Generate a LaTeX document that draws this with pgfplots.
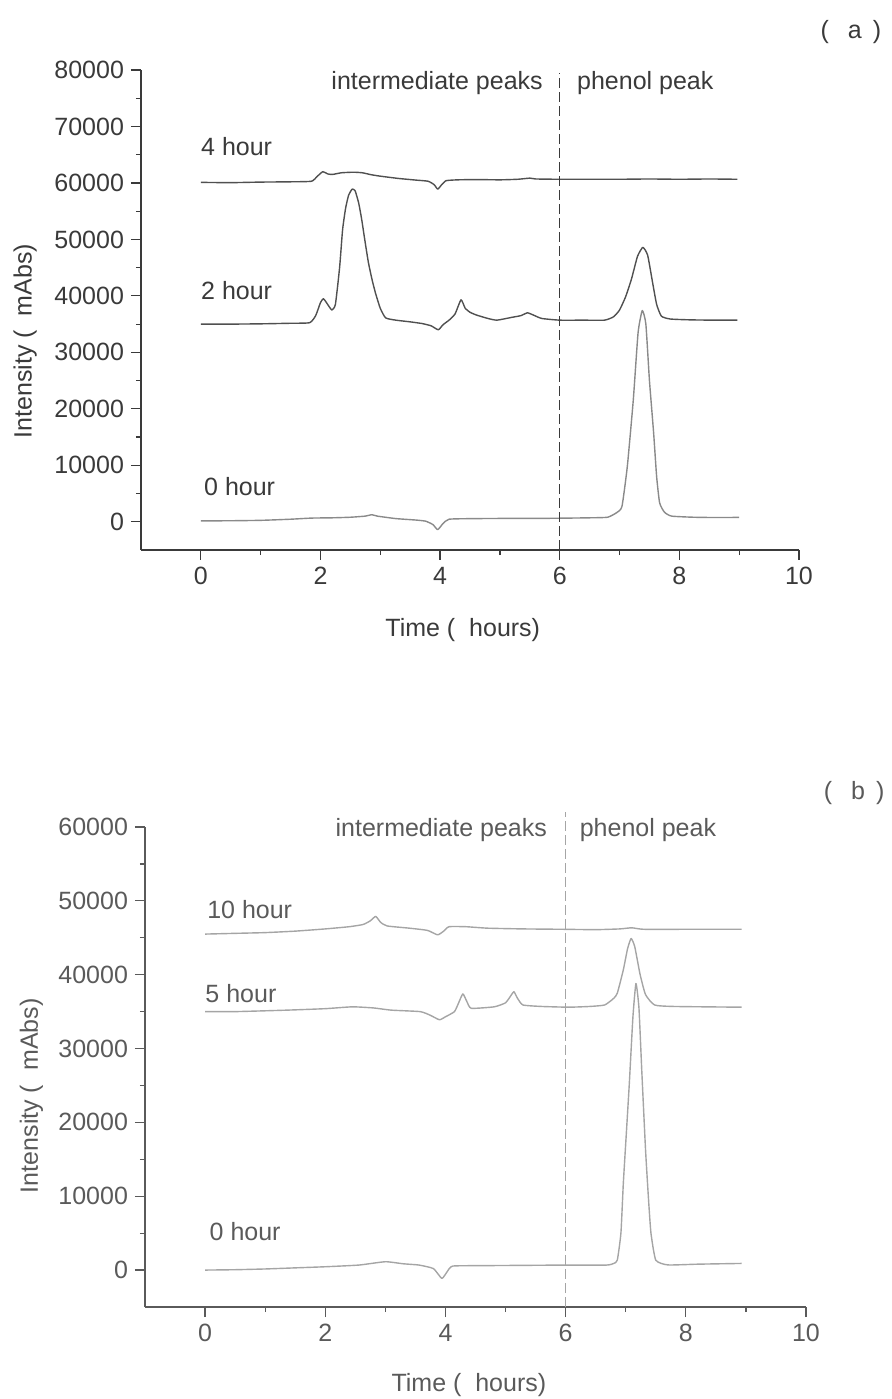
\documentclass[border=0pt]{standalone}
\usepackage{fontspec}
\setmainfont{Liberation Sans}
\usepackage{pgfplots}
\pgfplotsset{compat=1.18}
\definecolor{inka}{HTML}{3A3A3A}
\definecolor{linea}{HTML}{505050}
\definecolor{lineaz}{HTML}{8A8A8A}
\definecolor{inkb}{HTML}{5A5A5A}
\definecolor{lineb}{HTML}{A5A5A5}
\pgfplotsset{
  chrom/.style={
    scale only axis,
    axis x line*=bottom, axis y line*=left,
    axis line style={-, line width=0.7pt, color=#1},
    tick align=outside,
    tick style={line width=0.6pt, color=#1},
    major tick length=5pt, minor tick length=2.6pt,
    xmin=-1, xmax=10, xtick={0,2,4,6,8,10}, minor x tick num=1,
    minor y tick num=1, ymin=-5000,
    scaled y ticks=false,
    /pgf/number format/assume math mode=true,
    /pgf/number format/1000 sep={},
    font=\fontsize{12.5pt}{15pt}\selectfont,
    ticklabel style={color=#1, font=\fontsize{12.5pt}{15pt}\selectfont},
    label style={color=#1},
    clip=false,
  },
  curve/.style={#1, line width=0.7pt, line join=round, smooth, tension=0.3},
}
\begin{document}
\begin{tikzpicture}
\path[use as bounding box] (0,0) rectangle (446pt,699.5pt);
% ---------------- panel (a)
\begin{axis}[chrom=inka,
  at={(70.5pt,424.5pt)}, anchor=south west,
  width=329pt, height=240pt,
  ymax=80000, ytick={0,10000,...,80000},
  xlabel={Time (\ \ hours)}, ylabel={Intensity (\ \ mAbs)},
  xlabel style={at={(axis description cs:0.489,-0.167)}, anchor=center},
  ylabel style={at={(axis description cs:-0.176,0.435)}, anchor=center},
]
\addplot[curve=linea] coordinates {
(0,60100) (0.5,60050) (1.0,60150) (1.5,60200) (1.85,60300) (1.95,61200) (2.04,62000) (2.12,61600) (2.2,61500) (2.35,61800) (2.55,61900) (2.7,61800) (2.85,61450) (3.0,61200) (3.3,60800) (3.6,60500) (3.8,60300) (3.9,59700) (3.96,58900) (4.02,59600) (4.1,60400) (4.3,60550) (4.6,60600) (5.0,60550) (5.3,60650) (5.5,60850) (5.6,60700) (6,60650) (6.5,60650) (7,60650) (7.5,60700) (8,60650) (8.5,60700) (8.97,60650)
};
\addplot[curve=linea] coordinates {
(0,35000) (0.5,35000) (1.0,35050) (1.5,35150) (1.82,35250) (1.92,36500) (2.0,38800) (2.05,39500) (2.12,38500) (2.19,37500) (2.25,38500) (2.32,45000) (2.37,51700) (2.42,55500) (2.47,57800) (2.53,58900) (2.58,58600) (2.64,56400) (2.69,53500) (2.74,50000) (2.8,46000) (2.86,43000) (2.92,40500) (3.0,37800) (3.09,36100) (3.26,35700) (3.5,35400) (3.7,35100) (3.85,34700) (3.97,34000) (4.05,34900) (4.15,35700) (4.25,36800) (4.35,39300) (4.42,37800) (4.5,37100) (4.61,36600) (4.8,36000) (4.95,35700) (5.2,36200) (5.35,36500) (5.46,37000) (5.56,36600) (5.7,36000) (6.0,35700) (6.4,35700) (6.75,35700) (6.9,36300) (7.0,37500) (7.1,39800) (7.2,43000) (7.3,47000) (7.39,48600) (7.47,47200) (7.55,42500) (7.62,38500) (7.7,36400) (7.85,35900) (8.2,35750) (8.6,35700) (8.97,35700)
};
\addplot[curve=lineaz] coordinates {
(0,150) (0.5,180) (1.0,250) (1.5,450) (1.85,650) (2.2,700) (2.5,800) (2.75,1000) (2.86,1250) (2.95,1000) (3.26,560) (3.6,300) (3.76,100) (3.88,-500) (3.96,-1400) (4.05,-300) (4.15,450) (4.5,550) (5.2,600) (5.7,600) (6.16,650) (6.5,700) (6.8,800) (6.95,1600) (7.04,2700) (7.13,9800) (7.23,21600) (7.31,33500) (7.38,37400) (7.44,35000) (7.5,25000) (7.57,15700) (7.62,8000) (7.67,3350) (7.75,1700) (7.87,1000) (8.24,800) (8.6,750) (9.0,770)
};
\addplot[inka, line width=0.6pt, dash pattern=on 5pt off 2pt] coordinates {(6,-5000) (6,79500)};
\node[anchor=west, inner sep=0pt, color=inka] at (axis cs:0,66500) {4 hour};
\node[anchor=west, inner sep=0pt, color=inka] at (axis cs:0,40900) {2 hour};
\node[anchor=west, inner sep=0pt, color=inka] at (axis cs:0.05,6250) {0 hour};
\node[inner sep=0pt, color=inka] at (axis cs:3.95,77700) {intermediate peaks};
\node[inner sep=0pt, color=inka] at (axis cs:7.43,77700) {phenol peak};
\node[inner sep=0pt, color=inka] at (axis description cs:1.079,1.079) {(\hspace{0.75em}a\hspace{0.45em})};
\end{axis}
% ---------------- panel (b)
\begin{axis}[chrom=inkb,
  at={(72.5pt,46pt)}, anchor=south west,
  width=330.5pt, height=240pt,
  ymax=60000, ytick={0,10000,...,60000},
  xlabel={Time (\ \ hours)}, ylabel={Intensity (\ \ mAbs)},
  xlabel style={at={(axis description cs:0.49,-0.1625)}, anchor=center},
  ylabel style={at={(axis description cs:-0.172,0.44)}, anchor=center},
]
\addplot[curve=lineb] coordinates {
(0,45500) (0.5,45600) (1.0,45700) (1.5,45900) (2.0,46200) (2.4,46500) (2.63,46800) (2.75,47300) (2.84,47900) (2.92,47100) (3.03,46600) (3.4,46300) (3.7,46000) (3.87,45400) (3.97,45900) (4.06,46500) (4.34,46500) (4.7,46300) (5.3,46200) (5.95,46150) (6.5,46100) (6.9,46200) (7.1,46350) (7.3,46150) (8,46150) (8.93,46150)
};
\addplot[curve=lineb] coordinates {
(0,35000) (0.5,35000) (1.36,35200) (2.0,35400) (2.45,35650) (2.8,35500) (3.1,35200) (3.58,35000) (3.75,34500) (3.9,33900) (4.0,34300) (4.15,35000) (4.22,36200) (4.29,37400) (4.36,36300) (4.43,35450) (4.81,35650) (5.0,36200) (5.1,37300) (5.14,37700) (5.2,36800) (5.29,35900) (5.6,35700) (6.05,35600) (6.4,35700) (6.65,35900) (6.8,36800) (6.86,37500) (6.96,40650) (7.03,43500) (7.09,44900) (7.15,43800) (7.24,40000) (7.33,37300) (7.48,35900) (7.8,35700) (8.93,35600)
};
\addplot[curve=lineb] coordinates {
(0,0) (0.5,50) (1.0,150) (1.5,300) (2.0,450) (2.56,680) (3.0,1130) (3.3,850) (3.56,680) (3.8,200) (3.94,-1130) (4.03,-200) (4.12,540) (4.6,600) (5.5,650) (6.0,680) (6.68,680) (6.8,900) (6.86,1350) (6.92,5000) (6.96,11750) (7.01,18500) (7.06,25300) (7.12,34300) (7.17,38800) (7.22,35500) (7.27,26500) (7.33,16250) (7.38,9500) (7.42,5000) (7.5,1350) (7.7,700) (8.2,800) (8.93,900)
};
\addplot[lineb, line width=0.6pt, dash pattern=on 5pt off 2pt] coordinates {(6,-5000) (6,62000)};
\node[anchor=west, inner sep=0pt, color=inkb] at (axis cs:0.03,48800) {10 hour};
\node[anchor=west, inner sep=0pt, color=inkb] at (axis cs:0,37500) {5 hour};
\node[anchor=west, inner sep=0pt, color=inkb] at (axis cs:0.07,5200) {0 hour};
\node[inner sep=0pt, color=inkb] at (axis cs:3.93,59600) {intermediate peaks};
\node[inner sep=0pt, color=inkb] at (axis cs:7.37,59600) {phenol peak};
\node[inner sep=0pt, color=inkb] at (axis description cs:1.073,1.071) {(\hspace{0.75em}b\hspace{0.45em})};
\end{axis}
\end{tikzpicture}
\end{document}
